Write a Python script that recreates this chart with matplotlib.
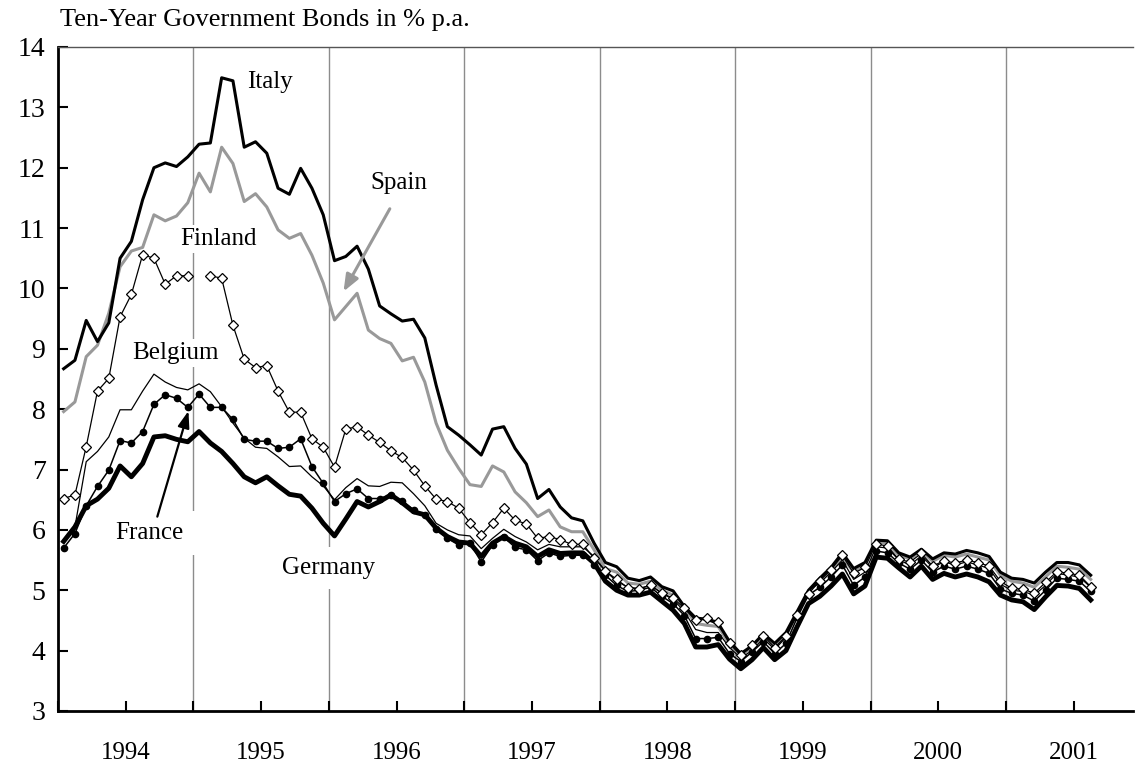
import numpy as np
import matplotlib.pyplot as plt

plt.rcParams['font.family'] = ['Liberation Serif', 'DejaVu Serif']

# ------ data: monthly yields, Jan 1994 .. Aug 2001
years = ['1994', '1995', '1996', '1997', '1998', '1999', '2000', '2001']

italy = [8.67, 8.81, 9.47, 9.12, 9.43, 10.50, 10.78, 11.47, 12.00, 12.08, 12.02, 12.18,
         12.39, 12.41, 13.49, 13.44, 12.34, 12.43, 12.24, 11.66, 11.56, 11.99, 11.66, 11.22,
         10.46, 10.53, 10.70, 10.32, 9.71, 9.58, 9.46, 9.49, 9.18, 8.40, 7.71, 7.57,
         7.41, 7.24, 7.67, 7.71, 7.35, 7.09, 6.52, 6.67, 6.38, 6.20, 6.15, 5.78,
         5.46, 5.39, 5.20, 5.16, 5.22, 5.06, 4.99, 4.73, 4.54, 4.52, 4.45, 4.15,
         3.95, 4.08, 4.28, 4.12, 4.30, 4.65, 5.00, 5.20, 5.38, 5.62, 5.36, 5.46,
         5.83, 5.82, 5.62, 5.55, 5.68, 5.52, 5.62, 5.60, 5.66, 5.62, 5.56, 5.30,
         5.20, 5.18, 5.12, 5.30, 5.46, 5.46, 5.42, 5.25]

spain = [7.96, 8.12, 8.87, 9.06, 9.59, 10.36, 10.62, 10.68, 11.22, 11.12, 11.20, 11.42,
         11.91, 11.60, 12.34, 12.07, 11.44, 11.57, 11.35, 10.97, 10.83, 10.91, 10.55, 10.09,
         9.48, 9.70, 9.92, 9.31, 9.17, 9.09, 8.80, 8.86, 8.45, 7.77, 7.32, 7.02,
         6.75, 6.72, 7.06, 6.96, 6.63, 6.45, 6.22, 6.33, 6.05, 5.97, 5.97, 5.67,
         5.36, 5.30, 5.12, 5.10, 5.15, 5.00, 4.92, 4.72, 4.45, 4.42, 4.40, 4.10,
         3.92, 4.05, 4.22, 4.05, 4.25, 4.62, 4.98, 5.18, 5.32, 5.55, 5.30, 5.42,
         5.80, 5.78, 5.58, 5.52, 5.65, 5.48, 5.58, 5.55, 5.60, 5.55, 5.50, 5.25,
         5.15, 5.12, 5.05, 5.22, 5.40, 5.38, 5.35, 5.18]

finland = [6.52, 6.58, 7.38, 8.30, 8.51, 9.53, 9.90, 10.56, 10.50, 10.07, 10.21, 10.21,
           np.nan, 10.21, 10.17, 9.39, 8.83, 8.69, 8.72, 8.30, 7.95, 7.95, 7.51, 7.37,
           7.04, 7.67, 7.71, 7.57, 7.45, 7.31, 7.20, 6.99, 6.73, 6.51, 6.47, 6.36,
           6.12, 5.92, 6.12, 6.36, 6.16, 6.10, 5.86, 5.89, 5.84, 5.76, 5.76, 5.53,
           5.32, 5.18, 5.04, 5.02, 5.09, 4.95, 4.87, 4.70, 4.50, 4.54, 4.48, 4.12,
           3.92, 4.10, 4.25, 4.05, 4.24, 4.59, 4.94, 5.16, 5.34, 5.58, 5.28, 5.38,
           5.77, 5.73, 5.51, 5.47, 5.61, 5.40, 5.49, 5.45, 5.50, 5.46, 5.40, 5.15,
           5.03, 5.02, 4.95, 5.13, 5.31, 5.28, 5.25, 5.06]

belgium = [5.78, 6.05, 7.13, 7.30, 7.54, 7.99, 7.99, 8.30, 8.58, 8.45, 8.36, 8.32,
           8.42, 8.29, 8.04, 7.77, 7.52, 7.37, 7.35, 7.21, 7.05, 7.06, 6.88, 6.73,
           6.50, 6.70, 6.85, 6.73, 6.72, 6.79, 6.78, 6.60, 6.40, 6.11, 6.00, 5.92,
           5.90, 5.69, 5.86, 6.01, 5.89, 5.80, 5.67, 5.76, 5.72, 5.72, 5.72, 5.56,
           5.32, 5.15, 5.05, 5.03, 5.08, 4.95, 4.85, 4.65, 4.35, 4.30, 4.30, 4.05,
           3.88, 4.00, 4.20, 4.02, 4.22, 4.62, 5.00, 5.12, 5.30, 5.50, 5.18, 5.30,
           5.72, 5.70, 5.50, 5.42, 5.57, 5.38, 5.47, 5.42, 5.47, 5.42, 5.36, 5.10,
           5.00, 4.98, 4.92, 5.08, 5.28, 5.25, 5.22, 5.05]

france = [5.70, 5.94, 6.40, 6.72, 6.99, 7.48, 7.44, 7.63, 8.08, 8.24, 8.18, 8.03,
          8.25, 8.03, 8.03, 7.83, 7.50, 7.47, 7.47, 7.35, 7.37, 7.51, 7.05, 6.77,
          6.47, 6.60, 6.68, 6.52, 6.52, 6.58, 6.48, 6.33, 6.25, 6.01, 5.86, 5.75,
          5.78, 5.47, 5.75, 5.88, 5.71, 5.67, 5.49, 5.62, 5.56, 5.58, 5.58, 5.42,
          5.25, 5.08, 4.98, 5.00, 5.05, 4.90, 4.78, 4.58, 4.20, 4.20, 4.22, 3.95,
          3.82, 3.98, 4.15, 3.95, 4.12, 4.55, 4.92, 5.05, 5.22, 5.42, 5.08, 5.22,
          5.65, 5.62, 5.45, 5.35, 5.50, 5.30, 5.40, 5.35, 5.40, 5.35, 5.28, 5.02,
          4.95, 4.92, 4.82, 5.00, 5.20, 5.18, 5.15, 4.98]

germany = [5.81, 6.05, 6.40, 6.51, 6.69, 7.06, 6.88, 7.10, 7.54, 7.56, 7.50, 7.46,
           7.63, 7.44, 7.30, 7.10, 6.88, 6.78, 6.88, 6.73, 6.59, 6.56, 6.36, 6.11,
           5.90, 6.18, 6.47, 6.38, 6.47, 6.58, 6.45, 6.30, 6.25, 6.03, 5.89, 5.80,
           5.78, 5.56, 5.78, 5.89, 5.78, 5.72, 5.56, 5.67, 5.61, 5.62, 5.62, 5.45,
           5.15, 5.00, 4.92, 4.92, 4.97, 4.82, 4.67, 4.45, 4.06, 4.06, 4.10, 3.86,
           3.70, 3.85, 4.05, 3.85, 4.00, 4.40, 4.78, 4.90, 5.07, 5.27, 4.94, 5.07,
           5.55, 5.53, 5.37, 5.22, 5.40, 5.18, 5.28, 5.22, 5.27, 5.22, 5.14, 4.92,
           4.84, 4.81, 4.68, 4.89, 5.08, 5.07, 5.03, 4.84]

months = np.arange(len(germany)) + 0.5   # points sit mid-month

# ------ plot
fig = plt.figure(figsize=(11.36, 7.63), dpi=100)
ax = fig.add_axes([58 / 1136, 52 / 763, (1133 - 58) / 1136, (711 - 47) / 763])

for m in range(12, 96, 12):
    ax.axvline(m, color='#8c8c8c', lw=1.0, zorder=1)

ax.plot(months, spain, color='#999999', lw=2.2, zorder=3)
ax.plot(months, italy, color='black', lw=2.2, zorder=4)
ax.plot(months, belgium, color='black', lw=0.9, zorder=5)
ax.plot(months, france, color='black', lw=1.1, marker='o', ms=4.5, zorder=6)
ax.plot(months, finland, color='black', lw=0.9, marker='D', ms=4.8,
        markerfacecolor='white', markeredgecolor='black', markeredgewidth=0.9, zorder=7)
ax.plot(months, germany, color='black', lw=3.5, zorder=6)

ax.set_xlim(0, 95.25)
ax.set_ylim(3, 14)
ax.set_yticks(range(3, 15))
# tick marks every half year, year names under the middle of each year
ax.set_xticks(range(0, 96, 6))
ax.set_xticklabels(['' if k % 2 == 0 else years[k // 2] for k in range(16)])
ax.tick_params(axis='x', direction='in', length=7, width=1.5, pad=22, labelsize=18)
ax.tick_params(axis='y', direction='in', length=7, width=1.5, pad=9, labelsize=20)

ax.spines['left'].set_linewidth(2)
ax.spines['bottom'].set_linewidth(2)
ax.spines['top'].set_linewidth(1)
ax.spines['top'].set_color('#555555')
ax.spines['right'].set_visible(False)

fig.text(60 / 1136, 1 - 20 / 763, 'Ten-Year Government Bonds in % p.a.',
         fontsize=19, va='center', ha='left')

box = dict(facecolor='white', edgecolor='none', pad=2)
ax.text(18.8, 13.42, 'Italy', fontsize=18, ha='center', va='center', bbox=box, zorder=9)
ax.text(30.2, 11.75, 'Spain', fontsize=18, ha='center', va='center', bbox=box, zorder=9)
ax.text(14.2, 10.82, 'Finland', fontsize=18, ha='center', va='center', bbox=box, zorder=9)
ax.text(10.4, 8.93, 'Belgium', fontsize=18, ha='center', va='center', bbox=box, zorder=9)
ax.text(8.1, 5.95, 'France', fontsize=18, ha='center', va='center',
        bbox=dict(facecolor='white', edgecolor='none', pad=8), zorder=9)
ax.text(24.0, 5.37, 'Germany', fontsize=18, ha='center', va='center',
        bbox=dict(facecolor='white', edgecolor='none', pad=7), zorder=9)

ax.annotate('', xy=(25.3, 9.95), xytext=(29.4, 11.32),
            arrowprops=dict(arrowstyle='-|>,head_length=1.0,head_width=0.4',
                            color='#999999', lw=2.2, shrinkA=0, shrinkB=0), zorder=10)
ax.annotate('', xy=(11.56, 7.97), xytext=(8.8, 6.22),
            arrowprops=dict(arrowstyle='-|>,head_length=1.0,head_width=0.35',
                            color='black', lw=1.6, shrinkA=0, shrinkB=0), zorder=10)

fig.savefig('out.png', dpi=100)
